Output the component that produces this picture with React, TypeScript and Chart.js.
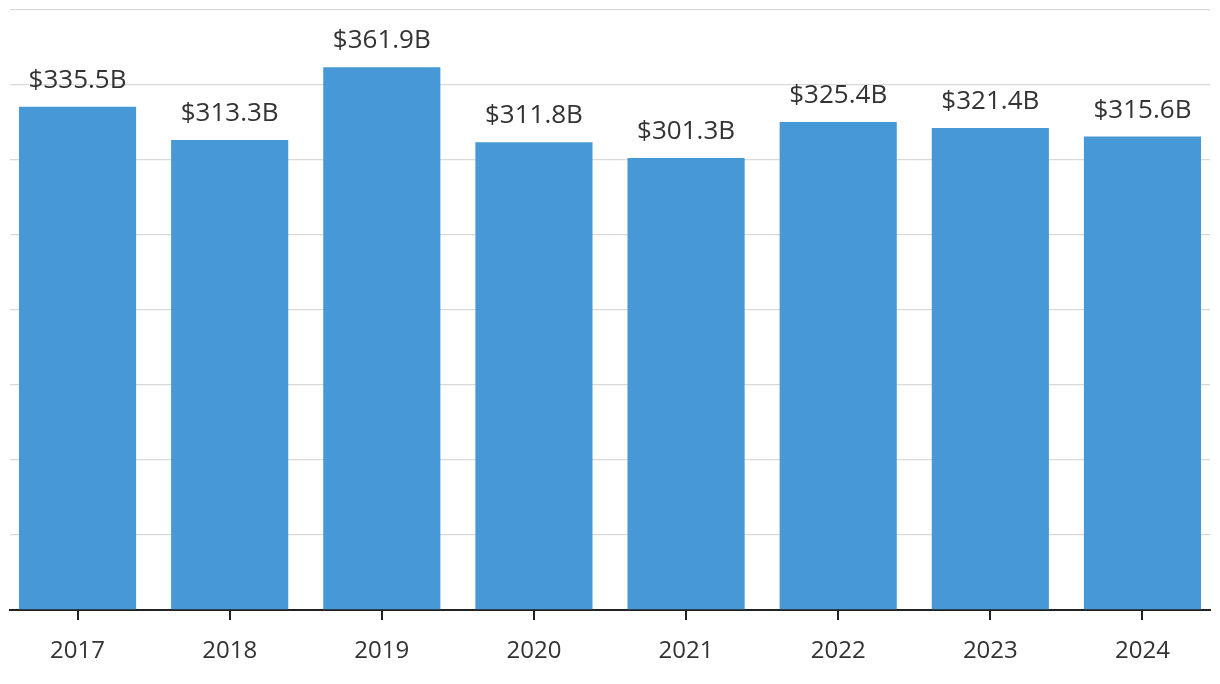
import React, { useEffect, useRef } from "react";
import { Chart, registerables } from "chart.js";

Chart.register(...registerables);

const categories = ["2017", "2018", "2019", "2020", "2021", "2022", "2023", "2024"];
const values = [335.5, 313.3, 361.9, 311.8, 301.3, 325.4, 321.4, 315.6];
const valueLabels = ["$335.5B", "$313.3B", "$361.9B", "$311.8B", "$301.3B", "$325.4B", "$321.4B", "$315.6B"];

const FONT = "'Open Sans', Lato, sans-serif";

const labelPlugin = {
  id: "barLabels",
  afterDatasetsDraw(chart: any) {
    const ctx = chart.ctx;
    const meta = chart.getDatasetMeta(0);
    ctx.save();
    ctx.font = `400 26px ${FONT}`;
    ctx.fillStyle = "#333333";
    ctx.textAlign = "center";
    ctx.textBaseline = "alphabetic";
    meta.data.forEach((bar: any, i: number) => {
      ctx.fillText(valueLabels[i], bar.x, bar.y - 19);
    });
    ctx.restore();
  },
};

export default function App() {
  const ref = useRef<HTMLCanvasElement | null>(null);
  useEffect(() => {
    if (!ref.current) return;
    const chart = new Chart(ref.current, {
      type: "bar",
      data: {
        datasets: [
          {
            data: values.map((v, i) => ({ x: i, y: v })),
            backgroundColor: "#4698d6",
            borderWidth: 0,
            barPercentage: 0.77,
            categoryPercentage: 1,
          },
        ],
      },
      plugins: [labelPlugin],
      options: {
        animation: false,
        responsive: true,
        maintainAspectRatio: false,
        layout: { padding: { left: 2, right: 2, top: 2, bottom: 0 } },
        plugins: { legend: { display: false }, tooltip: { enabled: false } },
        scales: {
          x: {
            type: "linear",
            offset: false,
            min: -0.444,
            max: 7.444,
            afterBuildTicks: (scale: any) => {
              scale.ticks = categories.map((_, i) => ({ value: i }));
            },
            afterFit: (scale: any) => {
              scale.height = 66;
            },
            ticks: {
              callback: (v: any) => categories[v] ?? "",
              color: "#333333",
              font: { family: FONT, size: 24 },
              padding: 17,
              maxRotation: 0,
              autoSkip: false,
            },
            grid: {
              display: true,
              offset: false,
              drawOnChartArea: false,
              drawTicks: true,
              tickLength: 10,
              color: "#222222",
              lineWidth: 2,
            },
            border: { display: true, color: "#222222", width: 2 },
          },
          y: {
            min: 0,
            max: 400,
            ticks: { display: false, stepSize: 50 },
            grid: { color: "#d9d9d9", lineWidth: 1.3, drawTicks: false },
            border: { display: false },
          },
        },
      },
    });
    return () => chart.destroy();
  }, []);
  return (
    <div style={{ position: "relative", width: 1204, height: 668 }}>
      <canvas ref={ref} />
    </div>
  );
}
